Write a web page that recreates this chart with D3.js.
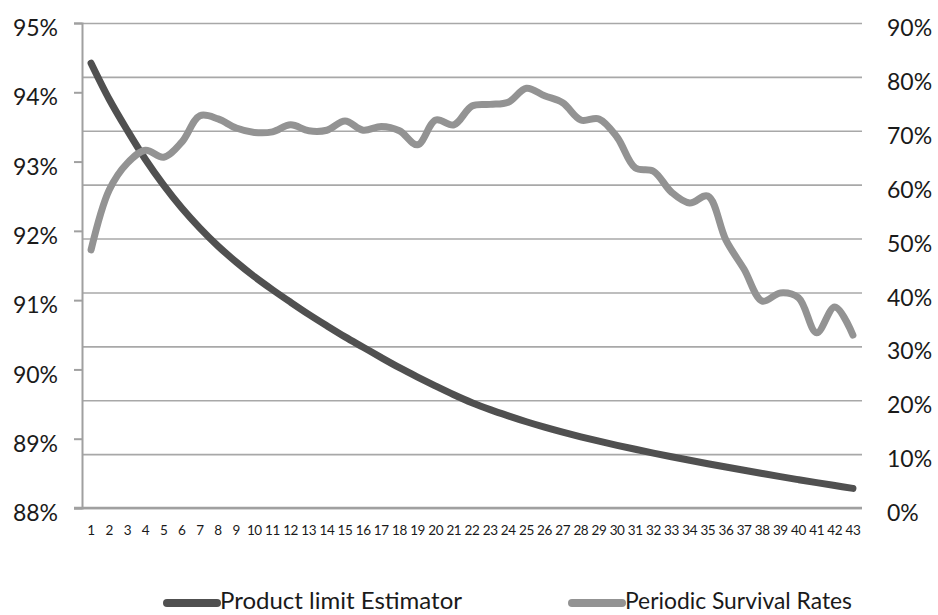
<!DOCTYPE html>
<html><head><meta charset="utf-8">
<script src="https://cdn.jsdelivr.net/npm/d3@7"></script>
<style>
html,body{margin:0;padding:0;background:#fff;}
svg{display:block;}
text{font-family:Lato,"Open Sans",sans-serif;fill:#1a1a1a;}
</style></head>
<body>
<svg id="chart" width="938" height="615"></svg>
<script>
const categories = d3.range(1, 44).map(String);
const productLimitEstimator = [
  94.42, 93.90, 93.45, 93.03, 92.66, 92.33, 92.04, 91.78, 91.55, 91.34,
  91.15, 90.97, 90.795, 90.63, 90.47, 90.32, 90.17, 90.025, 89.89, 89.76,
  89.635, 89.52, 89.42, 89.33, 89.245, 89.167, 89.095, 89.028, 88.965, 88.905,
  88.848, 88.793, 88.74, 88.689, 88.639, 88.591, 88.544, 88.498, 88.453, 88.409,
  88.366, 88.324, 88.283
];
const periodicSurvivalRates = [
  47.9, 59.0, 64.0, 66.4, 65.1, 67.9, 72.8, 72.2, 70.5, 69.7,
  69.8, 71.1, 70.0, 70.1, 71.8, 70.1, 70.8, 70.0, 67.4, 72.0,
  71.1, 74.6, 74.9, 75.3, 77.9, 76.5, 75.2, 72.0, 72.2, 68.8,
  63.1, 62.5, 58.6, 56.6, 57.9, 49.7, 44.3, 38.4, 39.9, 39.0,
  32.5, 37.3, 32.1
];
const leftTicks = [88, 89, 90, 91, 92, 93, 94, 95];
const rightTicks = [0, 10, 20, 30, 40, 50, 60, 70, 80, 90];
const seriesNames = ["Product limit Estimator", "Periodic Survival Rates"];
const seriesColors = ["#505050", "#939393"];

const svg = d3.select("#chart");
const L = 82, R = 862, T = 23, B = 508;

const x = d3.scaleBand().domain(categories).range([L, R]).paddingInner(0).paddingOuter(0);
const cx = c => x(c) + x.bandwidth() / 2;
const yL = d3.scaleLinear().domain([88, 95]).range([B, T]);
const yR = d3.scaleLinear().domain([0, 90]).range([B, T]);

// gridlines (from right axis)
const grid = svg.append("g").attr("transform", `translate(${L},0)`)
  .call(d3.axisLeft(yR).tickValues(rightTicks).tickSize(-(R - L)).tickFormat(""));
grid.select(".domain").remove();
grid.selectAll("line").attr("stroke", "#a8a8a8").attr("stroke-width", 1.6);

// right axis labels
const ra = svg.append("g").attr("transform", `translate(${R},0)`)
  .call(d3.axisRight(yR).tickValues(rightTicks).tickSize(0).tickPadding(25).tickFormat(d => d + "%"));
ra.select(".domain").remove();
ra.selectAll("text").attr("font-size", 23).attr("fill", "#1a1a1a").attr("dy", "0.55em").style("font-family", "Lato, sans-serif");

// left axis
const la = svg.append("g").attr("transform", `translate(${L},0)`)
  .call(d3.axisLeft(yL).tickValues(leftTicks).tickSize(8).tickPadding(16).tickFormat(d => d + "%"));
la.select(".domain").attr("stroke", "#a0a0a0").attr("stroke-width", 2);
la.selectAll("line").attr("stroke", "#a0a0a0").attr("stroke-width", 2);
la.selectAll("text").attr("font-size", 23).attr("fill", "#1a1a1a").attr("dy", "0.55em").style("font-family", "Lato, sans-serif");

// bottom axis
const ba = svg.append("g").attr("transform", `translate(0,${B})`)
  .call(d3.axisBottom(x).tickSize(0).tickPadding(17));
ba.select(".domain").attr("stroke", "#a0a0a0").attr("stroke-width", 2.5).attr("d", `M${L - 8},0H${R}`);
ba.selectAll("text").attr("font-size", 13.5).attr("fill", "#1a1a1a").attr("letter-spacing", "-0.4px").style("font-family", "Lato, sans-serif");

// lines
const lineL = d3.line().x((d, i) => cx(categories[i])).y(d => yL(d)).curve(d3.curveCatmullRom.alpha(0.5));
const lineR = d3.line().x((d, i) => cx(categories[i])).y(d => yR(d)).curve(d3.curveCatmullRom.alpha(0.5));

svg.append("path").datum(productLimitEstimator).attr("d", lineL)
  .attr("fill", "none").attr("stroke", seriesColors[0]).attr("stroke-width", 7).attr("stroke-linecap", "round").attr("stroke-linejoin", "round");
svg.append("path").datum(periodicSurvivalRates).attr("d", lineR)
  .attr("fill", "none").attr("stroke", seriesColors[1]).attr("stroke-width", 7).attr("stroke-linecap", "round").attr("stroke-linejoin", "round");

// legend
const legendX = [163, 568];
const legendLen = [242, 227];
const lg = svg.append("g");
seriesNames.forEach((name, i) => {
  lg.append("line").attr("x1", legendX[i] + 4).attr("x2", legendX[i] + 54)
    .attr("y1", 603).attr("y2", 603).attr("stroke", seriesColors[i]).attr("stroke-width", 8).attr("stroke-linecap", "round");
  lg.append("text").attr("x", legendX[i] + 57).attr("y", 609).attr("font-size", 23.5)
    .attr("textLength", legendLen[i]).attr("lengthAdjust", "spacingAndGlyphs").text(name);
});
</script>
</body></html>
